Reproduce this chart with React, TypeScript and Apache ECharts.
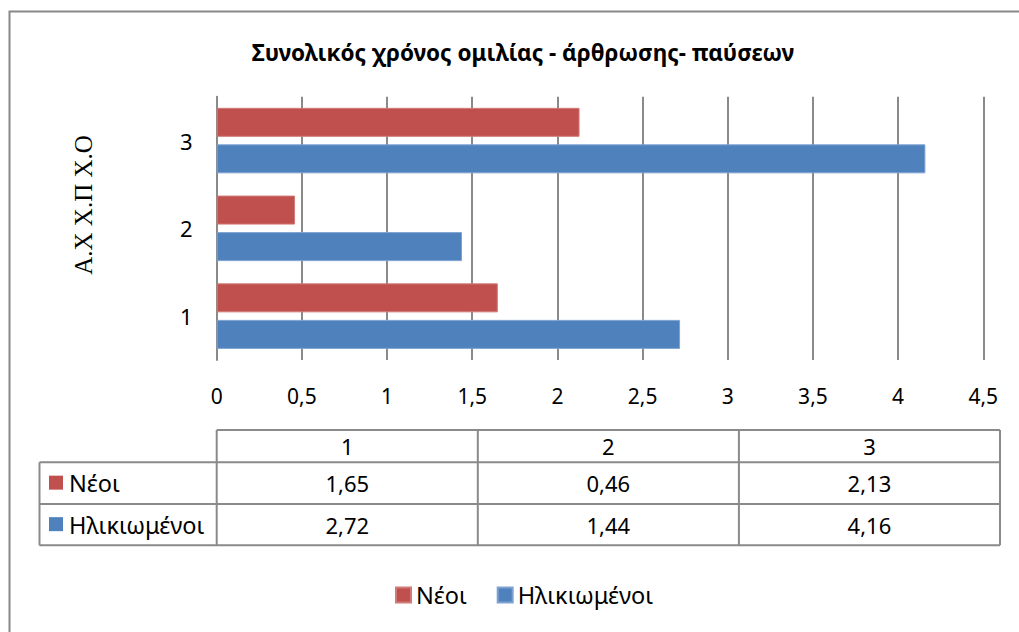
import React, { useEffect, useRef } from "react";
import * as echarts from "echarts";

const categories = ["1", "2", "3"];
const seriesNames = ["Νέοι", "Ηλικιωμένοι"];
const neoi = [1.65, 0.46, 2.13];
const ilikiomenoi = [2.72, 1.44, 4.16];
const colors = ["#C0504D", "#4F81BD"];
const title = "Συνολικός χρόνος ομιλίας - άρθρωσης- παύσεων";
const yName = "Α.Χ Χ.Π Χ.Ο";

const fmt = (v: number) => String(v).replace(".", ",");

export default function App() {
  const ref = useRef<HTMLDivElement>(null);
  useEffect(() => {
    if (!ref.current) return;
    const chart = echarts.init(ref.current, null, { renderer: "svg" });
    const font = "Noto Sans";
    const grid = "#8a8a8a";
    const tx0 = 39.5, tx1 = 216.7, tx4 = 1000;
    const ty0 = 430, ty1 = 462.3, ty2 = 504, ty3 = 545.3;
    const colW = (tx4 - tx1) / categories.length;
    const rows = [neoi, ilikiomenoi];
    const g: any[] = [];
    g.push({
      type: "rect",
      shape: { x: 9.5, y: 11.5, width: 1100, height: 700 },
      style: { fill: "none", stroke: "#888", lineWidth: 2 },
      silent: true,
    });
    g.push({
      type: "text",
      x: 83,
      y: 205,
      rotation: Math.PI / 2,
      style: {
        text: yName,
        font: '25px "Liberation Serif"',
        fill: "#000",
        align: "center",
        verticalAlign: "middle",
      },
    });
    const ls = { stroke: grid, lineWidth: 2 };
    g.push({ type: "line", shape: { x1: tx1, y1: ty0, x2: tx4, y2: ty0 }, style: ls });
    [ty1, ty2, ty3].forEach((y) =>
      g.push({ type: "line", shape: { x1: tx0, y1: y, x2: tx4, y2: y }, style: ls })
    );
    g.push({ type: "line", shape: { x1: tx0, y1: ty1, x2: tx0, y2: ty3 }, style: ls });
    for (let i = 0; i <= categories.length; i++) {
      const x = tx1 + i * colW;
      g.push({ type: "line", shape: { x1: x, y1: ty0, x2: x, y2: ty3 }, style: ls });
    }
    const tfont = `22px "${font}"`;
    categories.forEach((c, i) => {
      g.push({
        type: "text",
        x: tx1 + (i + 0.5) * colW,
        y: (ty0 + ty1) / 2,
        style: { text: c, font: tfont, fill: "#000", align: "center", verticalAlign: "middle" },
      });
    });
    const rowY = [ty1, ty2, ty3];
    rows.forEach((r, ri) => {
      const cy = (rowY[ri] + rowY[ri + 1]) / 2;
      g.push({
        type: "rect",
        shape: { x: 49, y: cy - 7.5, width: 14, height: 14 },
        style: { fill: colors[ri] },
      });
      g.push({
        type: "text",
        x: 69,
        y: cy,
        style: { text: seriesNames[ri], font: `23.5px "${font}"`, fill: "#000", align: "left", verticalAlign: "middle" },
      });
      r.forEach((v, i) => {
        g.push({
          type: "text",
          x: tx1 + (i + 0.5) * colW,
          y: cy,
          style: { text: fmt(v), font: tfont, fill: "#000", align: "center", verticalAlign: "middle" },
        });
      });
    });

    chart.setOption({
      animation: false,
      backgroundColor: "#fff",
      title: {
        text: title,
        left: 518,
        textAlign: "center",
        top: 36,
        textStyle: { fontFamily: font, fontWeight: "bold", fontSize: 22.5, color: "#000" },
      },
      legend: {
        data: seriesNames,
        bottom: 20,
        left: 390,
        itemWidth: 15,
        itemHeight: 15,
        itemGap: 30,
        icon: "rect",
        textStyle: { fontFamily: font, fontSize: 23.5, color: "#000" },
      },
      grid: { left: 216.7, right: 1019 - 983.3, top: 96.7, bottom: 632 - 360, containLabel: false },
      xAxis: {
        type: "value",
        min: 0,
        max: 4.5,
        interval: 0.5,
        axisLine: { show: false },
        axisTick: { show: false },
        axisLabel: {
          formatter: (v: number) => fmt(v),
          fontFamily: font,
          fontSize: 21,
          color: "#000",
          margin: 25,
        },
        splitLine: { show: true, lineStyle: { color: grid, width: 2 } },
      },
      yAxis: {
        type: "category",
        data: categories,
        axisLine: { show: true, lineStyle: { color: grid, width: 2 } },
        axisTick: { show: false },
        axisLabel: { fontFamily: font, fontSize: 22, color: "#000", margin: 24 },
      },
      series: [
        {
          name: seriesNames[0],
          type: "bar",
          data: neoi,
          barWidth: 29,
          barGap: "26%",
          itemStyle: { color: colors[0], borderColor: "#d07b78", borderWidth: 1 },
        },
        {
          name: seriesNames[1],
          type: "bar",
          data: ilikiomenoi,
          barWidth: 29,
          barGap: "26%",
          itemStyle: { color: colors[1], borderColor: "#7ea3d3", borderWidth: 1 },
        },
      ],
      graphic: g,
    });
    return () => chart.dispose();
  }, []);
  return (
    <div
      ref={ref}
      style={{ position: "absolute", left: 0, top: 0, width: 1019, height: 632 }}
    />
  );
}
